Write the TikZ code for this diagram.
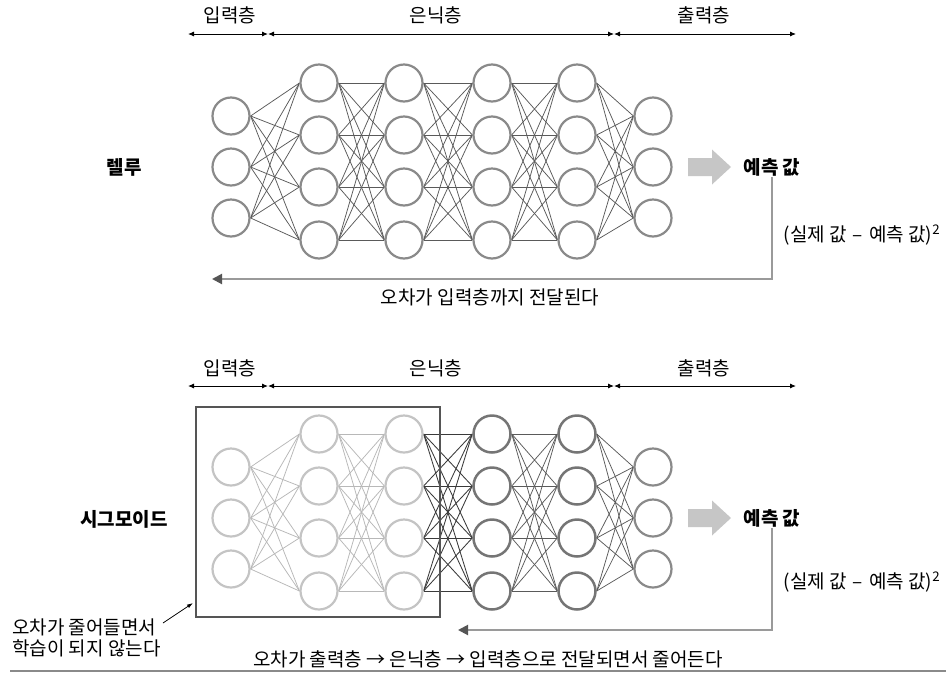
\documentclass[tikz,border=0pt]{standalone}
\usepackage{fontspec}
\setmainfont{Noto Sans CJK KR}
\usetikzlibrary{arrows.meta,backgrounds}
\definecolor{ndgray}{HTML}{8A8A8A}
\definecolor{ndfade}{HTML}{C4C4C4}
\definecolor{nddark}{HTML}{757575}
\definecolor{edgray}{HTML}{5A5A5A}
\definecolor{edfade}{HTML}{B8B8B8}
\definecolor{eddark}{HTML}{3A3A3A}
\definecolor{fbgray}{HTML}{9A9A9A}
\definecolor{blkgray}{HTML}{C6C6C6}
\definecolor{boxgray}{HTML}{555555}
\tikzset{
  nd/.style={circle, draw=ndgray, line width=2.2pt, fill=white, minimum size=37pt, inner sep=0pt},
  ndf/.style={nd, draw=ndfade},
  ndk/.style={nd, draw=nddark, line width=2.5pt},
  edg/.style={draw=edgray, line width=0.75pt},
  edgf/.style={draw=edfade, line width=0.75pt},
  edgk/.style={draw=eddark, line width=0.85pt},
  lbl/.style={font=\fontsize{19}{22}\selectfont, inner sep=1pt},
  boldlbl/.style={font=\fontsize{19}{22}\selectfont\bfseries, inner sep=1pt},
  dimline/.style={line width=0.9pt, {Latex[length=6pt,width=5pt]}-{Latex[length=6pt,width=5pt]}},
  fbline/.style={draw=fbgray, line width=2pt, -{Triangle[length=10pt,width=10pt,color=boxgray]}},
  blk/.style={fill=blkgray},
}
\begin{document}
\begin{tikzpicture}[x=1pt,y=-1pt]
\useasboundingbox (0,0) rectangle (946,673);

% ================= TOP (ReLU) =================
\foreach \j/\y in {1/116,2/167,3/218} {
  \node[nd] (tI\j) at (231,\y) {};
  \node[nd] (tO\j) at (653,\y) {};
}
\foreach \j/\y in {1/83,2/135,3/187,4/240} {
  \node[nd] (tA\j) at (319,\y) {};
  \node[nd] (tB\j) at (404,\y) {};
  \node[nd] (tC\j) at (492,\y) {};
  \node[nd] (tD\j) at (577,\y) {};
}
\begin{pgfonlayer}{background}
\fill[white] (0,0) rectangle (946,673);
\foreach \a/\na/\b/\nb in {I/3/A/4, A/4/B/4, B/4/C/4, C/4/D/4, D/4/O/3}
  \foreach \i in {1,...,\na}
    \foreach \j in {1,...,\nb}
      \draw[edg] (t\a\i.east) -- (t\b\j.west);
\end{pgfonlayer}

% dimension arrows
\coordinate (td0) at (188,34);
\coordinate (td1) at (268,34);
\coordinate (td2) at (614,34);
\coordinate (td3) at (796,34);
\draw[dimline] (td0) -- (td1);
\draw[dimline] (td1) -- (td2);
\draw[dimline] (td2) -- (td3);
\node[lbl] (tLin) at (230,15) {입력층};
\node[lbl] (tLhid) at (436,15) {은닉층};
\node[lbl] (tLout) at (704,15) {출력층};

\node[boldlbl] (relu) at (124,167) {렐루};
\fill[blk] (688,158) -- (712,158) -- (712,149.5) -- (731,167) -- (712,184.5) -- (712,176) -- (688,176) -- cycle;
\node[boldlbl] (tpred) at (772,167) {예측 값};
\coordinate (tfb) at (212,279);
\draw[fbline] (tpred.south) |- (tfb);
\node[lbl] (tloss) at (862,235) {(실제 값\hspace{6pt}–\hspace{6pt}예측 값)\textsuperscript{2}};
\node[lbl] (tcap) at (490,297) {오차가 입력층까지 전달된다};

% ================= BOTTOM (Sigmoid) =================
\foreach \j/\y in {1/467,2/518,3/569} {
  \node[ndf] (bI\j) at (231,\y) {};
  \node[nd] (bO\j) at (653,\y) {};
}
\foreach \j/\y in {1/434,2/486,3/538,4/591} {
  \node[ndf] (bA\j) at (319,\y) {};
  \node[ndf] (bB\j) at (404,\y) {};
  \node[ndk] (bC\j) at (492,\y) {};
  \node[ndk] (bD\j) at (577,\y) {};
}
\begin{pgfonlayer}{background}
\foreach \a/\na/\b/\nb/\st in {I/3/A/4/edgf, A/4/B/4/edgf, B/4/C/4/edgk, C/4/D/4/edg, D/4/O/3/edg}
  \foreach \i in {1,...,\na}
    \foreach \j in {1,...,\nb}
      \draw[\st] (b\a\i.east) -- (b\b\j.west);
\end{pgfonlayer}

\coordinate (bd0) at (188,386);
\coordinate (bd1) at (268,386);
\coordinate (bd2) at (614,386);
\coordinate (bd3) at (796,386);
\draw[dimline] (bd0) -- (bd1);
\draw[dimline] (bd1) -- (bd2);
\draw[dimline] (bd2) -- (bd3);
\node[lbl] (bLin) at (230,368) {입력층};
\node[lbl] (bLhid) at (436,368) {은닉층};
\node[lbl] (bLout) at (704,368) {출력층};

\node[draw=boxgray, line width=2.5pt, minimum width=244pt, minimum height=210pt, inner sep=0pt] (box) at (318,512) {};

\node[boldlbl] (sigm) at (124,519) {시그모이드};
\fill[blk] (688,509) -- (712,509) -- (712,500.5) -- (731,518) -- (712,535.5) -- (712,527) -- (688,527) -- cycle;
\node[boldlbl] (bpred) at (772,518) {예측 값};
\coordinate (bfb) at (458,630);
\draw[fbline] (bpred.south) |- (bfb);
\node[lbl] (bloss) at (862,582) {(실제 값\hspace{6pt}–\hspace{6pt}예측 값)\textsuperscript{2}};
\node[lbl] (bcap) at (488,659) {오차가 출력층 → 은닉층 → 입력층으로 전달되면서 줄어든다};

\node[lbl, align=left, anchor=west, font=\fontsize{19}{21}\selectfont] (note) at (11,638) {오차가 줄어들면서\\학습이 되지 않는다};
\coordinate (noteend) at (193,603);
\coordinate (notestart) at (163,623);
\draw[line width=0.8pt, -{Latex[length=6pt,width=4pt]}] (notestart) -- (noteend);

\coordinate (rule0) at (10,671);
\coordinate (rule1) at (946,671);
\draw[draw=ndgray, line width=1.5pt] (rule0) -- (rule1);
\end{tikzpicture}
\end{document}
